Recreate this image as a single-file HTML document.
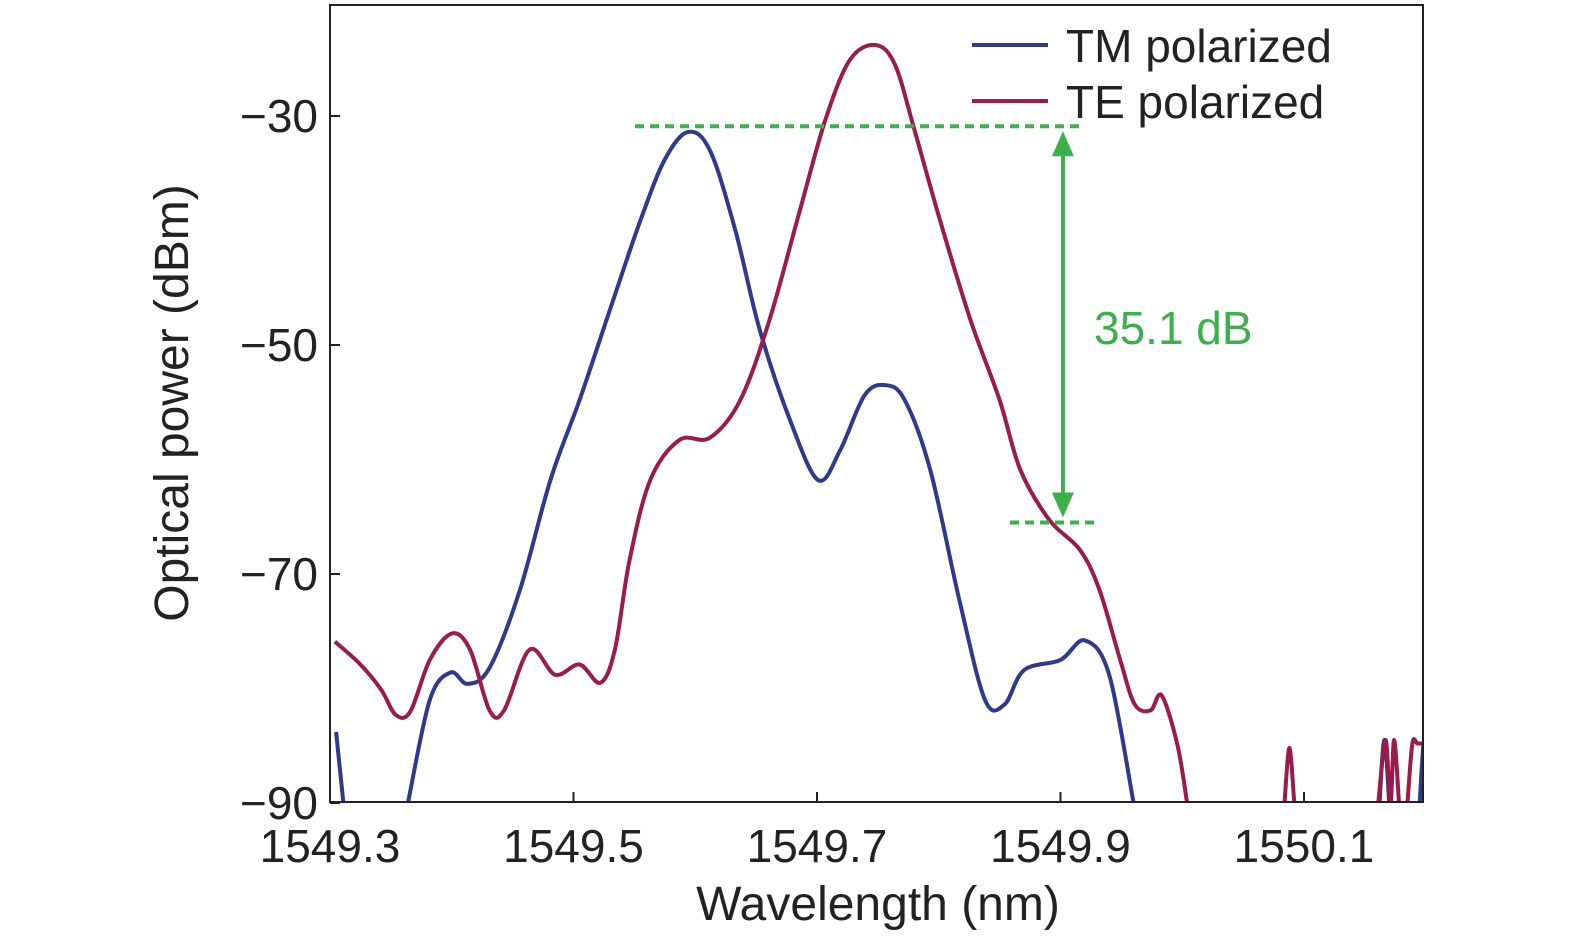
<!DOCTYPE html>
<html><head><meta charset="utf-8"><style>
body{margin:0;background:#fff;}
svg{display:block;font-family:"Liberation Sans",sans-serif;}
</style></head><body>
<svg id="chart" width="1575" height="943" viewBox="0 0 1575 943"></svg>
<script>
const xTicks=[1549.3,1549.5,1549.7,1549.9,1550.1];
const yTicks=[-30,-50,-70,-90];
const tmWl=[1549.305,1549.311,null,1549.364,1549.382,1549.399,1549.413,1549.431,1549.456,1549.481,1549.505,1549.530,1549.555,1549.575,1549.594,1549.612,1549.633,1549.653,1549.678,1549.701,1549.719,1549.739,1549.756,1549.772,1549.793,1549.817,1549.838,1549.854,1549.870,1549.900,1549.920,1549.940,1549.960,null,1550.162,1550.166,1550.170,null,1550.195,1550.198,1550.200];
const tmDb=[-83.8,-90,null,-90,-81,-78.6,-79.6,-78.2,-71.4,-61.8,-54.8,-46.9,-39.1,-33.8,-31.4,-33,-40,-48.7,-56.6,-61.8,-59.2,-54.4,-53.5,-54.8,-60.9,-72.3,-81,-81.4,-78.4,-77.5,-75.8,-78.8,-90,null,-90,-84.5,-90,null,-90,-85,-85];
const teWl=[1549.304,1549.325,1549.342,1549.354,1549.366,1549.382,1549.400,1549.415,1549.431,1549.443,1549.464,1549.485,1549.505,1549.522,1549.534,1549.546,1549.563,1549.587,1549.612,1549.637,1549.661,1549.686,1549.707,1549.727,1549.748,1549.764,1549.780,1549.801,1549.826,1549.850,1549.867,1549.891,1549.916,1549.932,1549.949,1549.961,1549.974,1549.983,1549.996,1550.004,null,1550.084,1550.088,1550.092,null,1550.161,1550.167,1550.171,1550.174,1550.178,null,1550.185,1550.189,1550.193,1550.196,1550.200];
const teDb=[-75.9,-77.9,-80.1,-82.3,-82,-77.5,-75.2,-76.6,-81.9,-81.9,-76.6,-78.8,-77.9,-79.5,-76.6,-68.8,-61.8,-58.3,-58.1,-54.8,-47.8,-38.2,-30.3,-25.1,-23.8,-25.5,-31.2,-39.1,-47.8,-54.8,-60.9,-65.3,-67.9,-71.4,-77.5,-81.4,-81.9,-80.6,-84.9,-90,null,-90,-85.2,-90,null,-90,-84.5,-90,-84.5,-90,null,-90,-84.8,-84.8,-84.8,-84.8];
const annoTop=-30.9, annoBot=-65.5, annoWl=1549.902;

const S="http://www.w3.org/2000/svg", svg=document.getElementById('chart');
const L=330,R=1423,T=5,B=802;
const X=v=>L+(v-1549.3)/0.2*243.5;
const Y=v=>116+(-30-v)/20*229;
function mk(t,a,txt){const e=document.createElementNS(S,t);for(const k in a)e.setAttribute(k,a[k]);if(txt!==undefined)e.textContent=txt;svg.appendChild(e);return e;}
function path(wl,db){
  const segs=[];let cur=[];
  for(let i=0;i<wl.length;i++){if(wl[i]===null){if(cur.length)segs.push(cur);cur=[];continue;}cur.push([X(wl[i]),Math.min(B+3,Y(db[i]))]);}
  if(cur.length)segs.push(cur);
  let d='';
  segs.forEach(p=>{
    d+='M'+p[0][0].toFixed(1)+' '+p[0][1].toFixed(1)+' ';
    for(let i=0;i<p.length-1;i++){
      const p0=p[Math.max(0,i-1)],p1=p[i],p2=p[i+1],p3=p[Math.min(p.length-1,i+2)];
      const c1x=p1[0]+(p2[0]-p0[0])/6,c1y=p1[1]+(p2[1]-p0[1])/6;
      const c2x=p2[0]-(p3[0]-p1[0])/6,c2y=p2[1]-(p3[1]-p1[1])/6;
      d+='C'+c1x.toFixed(1)+' '+c1y.toFixed(1)+' '+c2x.toFixed(1)+' '+c2y.toFixed(1)+' '+p2[0].toFixed(1)+' '+p2[1].toFixed(1)+' ';
    }
  });
  return d;
}
const clip=mk('clipPath',{id:'cp'});const cr=document.createElementNS(S,'rect');cr.setAttribute('x',L);cr.setAttribute('y',T);cr.setAttribute('width',R-L);cr.setAttribute('height',B-T);clip.appendChild(cr);

let p=mk('path',{d:path(tmWl,tmDb),fill:'none',stroke:'#2e3a8c','stroke-width':4,'stroke-linejoin':'round','clip-path':'url(#cp)'});

p=mk('path',{d:path(teWl,teDb),fill:'none',stroke:'#9b1b4b','stroke-width':4,'stroke-linejoin':'round','clip-path':'url(#cp)'});


const fr=mk('rect',{x:L,y:T,width:R-L,height:B-T,fill:'none',stroke:'#222','stroke-width':2});

xTicks.forEach(v=>{mk('line',{x1:X(v),x2:X(v),y1:B,y2:B-10,stroke:'#222','stroke-width':2});
 const t=mk('text',{x:X(v),y:862,'font-size':46,'text-anchor':'middle',fill:'#222'},v.toFixed(1));
 });
yTicks.forEach(v=>{mk('line',{x1:L,x2:L+10,y1:Y(v),y2:Y(v),stroke:'#222','stroke-width':2});
 const t=mk('text',{x:318,y:Y(v)+16,'font-size':46,'text-anchor':'end',fill:'#222'},'\u2212'+Math.abs(v));
 });
let t=mk('text',{x:878,y:920,'font-size':48,'text-anchor':'middle',fill:'#222'},'Wavelength (nm)');

t=mk('text',{x:0,y:0,'font-size':48,'text-anchor':'middle',fill:'#222',transform:'translate(188,403) rotate(-90)'},'Optical power (dBm)');


const g='#3cb04a';
mk('line',{x1:635,x2:1083,y1:Y(annoTop),y2:Y(annoTop),stroke:g,'stroke-width':4,'stroke-dasharray':'9 6'});
mk('line',{x1:1010,x2:1098,y1:Y(annoBot),y2:Y(annoBot),stroke:g,'stroke-width':4,'stroke-dasharray':'9 6'});
const ax=X(annoWl);
mk('line',{x1:ax,x2:ax,y1:Y(annoTop)+20,y2:Y(annoBot)-20,stroke:g,'stroke-width':4});
mk('polygon',{points:`${ax},${Y(annoTop)+5} ${ax-11},${Y(annoTop)+30} ${ax+11},${Y(annoTop)+30}`,fill:g});
mk('polygon',{points:`${ax},${Y(annoBot)-5} ${ax-11},${Y(annoBot)-30} ${ax+11},${Y(annoBot)-30}`,fill:g});
t=mk('text',{x:1094,y:344,'font-size':46,fill:g},'35.1 dB');


mk('line',{x1:972,x2:1048,y1:45,y2:45,stroke:'#2e3a8c','stroke-width':4});
t=mk('text',{x:1066,y:62,'font-size':46,fill:'#222'},'TM polarized');

mk('line',{x1:972,x2:1048,y1:101,y2:101,stroke:'#9b1b4b','stroke-width':4});
t=mk('text',{x:1066,y:118,'font-size':46,fill:'#222'},'TE polarized');

</script>
</body></html>
